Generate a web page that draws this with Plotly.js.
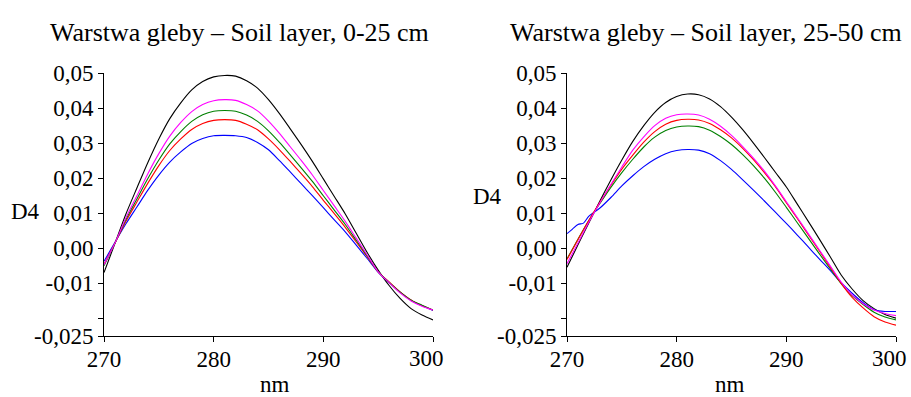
<!DOCTYPE html>
<html>
<head>
<meta charset="utf-8">
<script src="https://cdn.plot.ly/plotly-3.0.1.min.js"></script>
<style>html,body{margin:0;padding:0;background:#fff;}#chart{width:911px;height:397px;}</style>
</head>
<body>
<div id="chart"></div>
<script>
// Wavelength grid (nm)
const nm = [270,271,272,273,274,275,276,277,278,279,280,281,282,283,284,285,286,287,288,289,290,291,292,293,294,295,296,297,298,299,300];

// Left panel: soil layer 0-25 cm
const L_black   = [-0.0069,0.0014,0.0098,0.0172,0.0245,0.0312,0.0370,0.0415,0.0452,0.0476,0.0489,0.0493,0.0491,0.0478,0.0457,0.0424,0.0384,0.0340,0.0295,0.0248,0.0198,0.0148,0.0098,0.0043,-0.0012,-0.0062,-0.0106,-0.0143,-0.0172,-0.0190,-0.0204];
const L_magenta = [-0.0047,0.0015,0.0087,0.0150,0.0213,0.0270,0.0320,0.0359,0.0390,0.0410,0.0421,0.0424,0.0422,0.0410,0.0392,0.0363,0.0328,0.0289,0.0250,0.0209,0.0165,0.0121,0.0077,0.0029,-0.0019,-0.0067,-0.0098,-0.0127,-0.0150,-0.0165,-0.0176];
const L_green   = [-0.0050,0.0015,0.0082,0.0141,0.0199,0.0252,0.0298,0.0333,0.0362,0.0381,0.0391,0.0393,0.0391,0.0380,0.0362,0.0335,0.0302,0.0266,0.0229,0.0191,0.0150,0.0109,0.0068,0.0023,-0.0022,-0.0067,-0.0097,-0.0125,-0.0148,-0.0162,-0.0176];
const L_red     = [-0.0045,0.0015,0.0077,0.0132,0.0186,0.0236,0.0279,0.0312,0.0339,0.0356,0.0365,0.0367,0.0365,0.0354,0.0338,0.0312,0.0281,0.0247,0.0212,0.0176,0.0137,0.0099,0.0060,0.0018,-0.0024,-0.0067,-0.0096,-0.0124,-0.0147,-0.0163,-0.0176];
const L_blue    = [-0.0037,0.0017,0.0070,0.0118,0.0166,0.0209,0.0246,0.0275,0.0299,0.0313,0.0321,0.0322,0.0321,0.0316,0.0302,0.0281,0.0250,0.0217,0.0184,0.0150,0.0116,0.0081,0.0047,0.0009,-0.0029,-0.0068,-0.0098,-0.0125,-0.0148,-0.0164,-0.0177];

// Right panel: soil layer 25-50 cm
const R_black   = [-0.0054,0.0010,0.0073,0.0135,0.0195,0.0252,0.0305,0.0350,0.0388,0.0416,0.0433,0.0440,0.0438,0.0426,0.0404,0.0374,0.0339,0.0300,0.0259,0.0217,0.0175,0.0126,0.0077,0.0027,-0.0024,-0.0076,-0.0116,-0.0149,-0.0172,-0.0189,-0.0199];
const R_magenta = [-0.0044,0.0015,0.0075,0.0130,0.0182,0.0232,0.0280,0.0318,0.0350,0.0371,0.0381,0.0383,0.0380,0.0368,0.0348,0.0322,0.0291,0.0257,0.0220,0.0178,0.0133,0.0088,0.0042,-0.0004,-0.0050,-0.0096,-0.0133,-0.0158,-0.0176,-0.0186,-0.0192];
const R_red     = [-0.0032,0.0025,0.0080,0.0131,0.0180,0.0226,0.0266,0.0303,0.0333,0.0354,0.0365,0.0368,0.0366,0.0356,0.0338,0.0315,0.0286,0.0253,0.0216,0.0176,0.0130,0.0085,0.0039,-0.0007,-0.0053,-0.0100,-0.0140,-0.0170,-0.0195,-0.0210,-0.0219];
const R_green   = [-0.0030,0.0026,0.0080,0.0128,0.0174,0.0216,0.0254,0.0289,0.0317,0.0336,0.0346,0.0349,0.0347,0.0337,0.0319,0.0296,0.0268,0.0236,0.0200,0.0160,0.0117,0.0073,0.0029,-0.0015,-0.0058,-0.0101,-0.0135,-0.0160,-0.0182,-0.0196,-0.0204];
const R_blue_nm = [270,270.5,271,271.5,272,273,274,275,276,277,278,279,280,281,282,283,284,285,286,287,288,289,290,291,292,293,294,295,296,297,298,299,300];
const R_blue    = [0.0042,0.0055,0.0068,0.0072,0.0092,0.0115,0.0145,0.0178,0.0207,0.0233,0.0254,0.0270,0.0279,0.0282,0.0280,0.0270,0.0250,0.0225,0.0196,0.0166,0.0135,0.0103,0.0071,0.0038,0.0004,-0.0030,-0.0063,-0.0098,-0.0128,-0.0155,-0.0175,-0.0180,-0.0180];

// Axis ticks (the last x label, 300, is placed as an axis-anchored annotation nudged inside the page)
const xTicks = [270,280,290,300];
const xTickText = ['270','280','290',''];
const xLastTick = 300;
const yTickVals = [0.05,0.04,0.03,0.02,0.01,0.0,-0.01,-0.02,-0.025];
const yTickText = ['0,05','0,04','0,03','0,02','0,01','0,00','-0,01','','-0,025'];

const titles = ['Warstwa gleby – Soil layer, 0-25 cm','Warstwa gleby – Soil layer, 25-50 cm'];
const xLabel = 'nm';
const yLabel = 'D4';

const FONT = 'Liberation Serif';
const W = 911, H = 397;

function tr(x, y, color, xa, ya){
  return {x:x, y:y, type:'scatter', mode:'lines', xaxis:xa, yaxis:ya,
    line:{color:color, width:1.1, shape:'spline', smoothing:0.8}, hoverinfo:'skip', showlegend:false};
}

const data = [
  tr(nm, L_black, '#000000','x','y'),
  tr(nm, L_blue, '#0000ff','x','y'),
  tr(nm, L_red, '#ff0000','x','y'),
  tr(nm, L_green, '#008000','x','y'),
  tr(nm, L_magenta, '#ff00ff','x','y'),
  tr(nm, R_black, '#000000','x2','y2'),
  tr(R_blue_nm, R_blue, '#0000ff','x2','y2'),
  tr(nm, R_green, '#008000','x2','y2'),
  tr(nm, R_red, '#ff0000','x2','y2'),
  tr(nm, R_magenta, '#ff00ff','x2','y2')
];

function xax(domain, anchor){
  return {domain:domain, anchor:anchor, range:[270,300], tickvals:xTicks, ticktext:xTickText,
    showgrid:false, zeroline:false, showline:true, linecolor:'#000', linewidth:1,
    ticks:'outside', ticklen:5, tickcolor:'#000', tickwidth:1, ticklabeloverflow:'allow',
    ticklabelstandoff:-3,
    tickfont:{family:FONT, size:23, color:'#000'}, fixedrange:true};
}
function yax(domain, anchor){
  return {domain:domain, anchor:anchor, range:[-0.025,0.05], tickvals:yTickVals, ticktext:yTickText,
    showgrid:false, zeroline:false, showline:true, linecolor:'#000', linewidth:1,
    ticks:'outside', ticklen:5, tickcolor:'#000', tickwidth:1, ticklabeloverflow:'allow',
    tickfont:{family:FONT, size:23, color:'#000'}, fixedrange:true};
}

const yDom = [(H-336)/H, (H-73)/H];
function ann(text, px, py, size){
  return {text:text, x:px/W, y:1-py/H, xref:'paper', yref:'paper', showarrow:false,
    xanchor:'center', yanchor:'middle', font:{family:FONT, size:size, color:'#000'}};
}
function lastTickAnn(xref){
  return {text:String(xLastTick), x:xLastTick, xref:xref, y:1-358/H, yref:'paper', showarrow:false,
    xanchor:'center', yanchor:'middle', xshift:-7, font:{family:FONT, size:23, color:'#000'}};
}

const layout = {
  width:W, height:H, margin:{l:0,r:0,t:0,b:0}, paper_bgcolor:'#fff', plot_bgcolor:'#fff',
  showlegend:false,
  font:{family:FONT, color:'#000'},
  xaxis: xax([104/W, 433/W], 'y'),
  yaxis: yax(yDom, 'x'),
  xaxis2: xax([567/W, 896/W], 'y2'),
  yaxis2: yax(yDom, 'x2'),
  annotations:[
    ann(titles[0], 239.5, 33, 26),
    ann(titles[1], 706, 33, 26),
    ann(xLabel, 275, 384, 23),
    ann(xLabel, 730, 384, 23),
    ann(yLabel, 25, 212, 23),
    ann(yLabel, 487, 196, 23),
    lastTickAnn('x'),
    lastTickAnn('x2')
  ]
};

Plotly.newPlot('chart', data, layout, {staticPlot:true, displayModeBar:false});
</script>
</body>
</html>
